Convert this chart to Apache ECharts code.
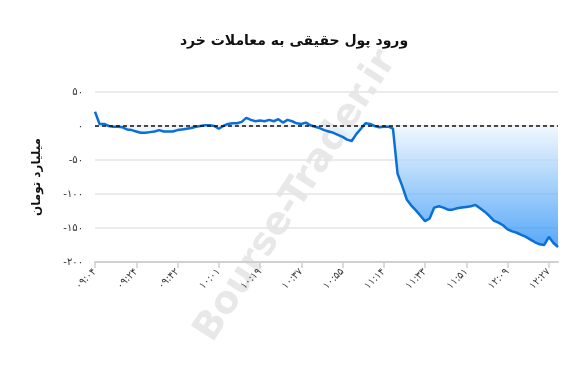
<!DOCTYPE html>
<html>
<head>
<meta charset="utf-8">
<script src="https://cdn.jsdelivr.net/npm/echarts@6/dist/echarts.min.js"></script>
<style>
  html, body { margin: 0; padding: 0; background: #fff; }
  #chart { width: 588px; height: 367px; }
</style>
</head>
<body>
<div id="chart"></div>
<script>
// ---- data (billion toman, per sample time) ----
var times = [
  "09:04","09:06","09:08","09:11","09:13","09:15","09:17","09:19","09:22","09:24",
  "09:26","09:28","09:30","09:32","09:34","09:36","09:38","09:40","09:42",
  "09:44","09:46","09:48","09:50","09:52","09:54","09:56","09:59","10:01",
  "10:03","10:05","10:07","10:09","10:11","10:13","10:15","10:17","10:19",
  "10:21","10:23","10:25","10:27","10:29","10:31","10:33","10:35","10:37",
  "10:39","10:41","10:43","10:45","10:47","10:49","10:51","10:53","10:55",
  "10:57","10:59","11:01","11:03","11:05","11:07","11:09","11:12","11:14",
  "11:16","11:18","11:20","11:22","11:24","11:26","11:28","11:31","11:33",
  "11:35","11:37","11:39","11:41","11:43","11:45","11:47","11:49","11:51",
  "11:53","11:55","11:57","11:59","12:01","12:03","12:05","12:07","12:09",
  "12:11","12:13","12:15","12:17","12:19","12:21","12:23","12:25","12:27",
  "12:29","12:31"
];

var netFlow = [
  21, 3, 3, 0, -1, -1, -2, -5, -6, -8,
  -10, -10, -9, -8, -6, -8, -8, -8, -6,
  -5, -4, -3, -1, 0, 1, 1, 0, -4,
  0, 3, 4, 4, 6, 12, 9, 7, 8,
  7, 9, 7, 10, 5, 9, 7, 4, 3,
  5, 1, -1, -3, -6, -8, -10, -13, -16,
  -20, -22, -12, -4, 4, 3, 0, -2, -1,
  -1, -4, -70, -88, -108, -117, -124, -132, -140,
  -136, -120, -118, -120, -123, -123, -121, -120, -119,
  -118, -116, -121, -126, -132, -139, -142, -146, -152,
  -155, -157, -160, -163, -167, -171, -174, -175, -163,
  -172, -178
];

var yTicks = { min: -200, max: 50, step: 50 };

// ---- helpers ----
var FA_DIGITS = "۰۱۲۳۴۵۶۷۸۹";
function toFa(s) {
  return String(s).replace(/[0-9]/g, function(d) { return FA_DIGITS[+d]; });
}

var chart = echarts.init(document.getElementById("chart"), null, { renderer: "canvas" });

chart.setOption({
  animation: false,
  backgroundColor: "#ffffff",
  title: {
    text: "ورود پول حقیقی به معاملات خرد",
    left: "center",
    top: 29,
    textStyle: { fontFamily: "DejaVu Sans", fontSize: 14, fontWeight: "bold", color: "#111" }
  },
  // watermark
  graphic: [{
    type: "text",
    x: 204, y: 338,
    rotation: 57 * Math.PI / 180,
    z: -1,
    silent: true,
    style: {
      text: "Bourse-Trader.ir",
      x: 0, y: 0,
      verticalAlign: "middle",
      fontFamily: "DejaVu Sans",
      fontSize: 38,
      fontWeight: "bold",
      fill: "rgba(140,140,140,0.2)"
    }
  }],
  grid: { left: 95, right: 30, top: 92, bottom: 105 },
  xAxis: {
    type: "category",
    data: times,
    boundaryGap: false,
    axisLine: { onZero: false, lineStyle: { color: "#d0d0d0", width: 2 } },
    axisTick: { interval: 8, length: 6, lineStyle: { color: "#d0d0d0", width: 1.5 } },
    axisLabel: {
      interval: 8,
      rotate: 45,
      margin: 8,
      fontFamily: "DejaVu Sans",
      fontSize: 10,
      color: "#333",
      formatter: function(v) { return toFa(v); }
    },
    splitLine: { show: false }
  },
  yAxis: {
    type: "value",
    min: yTicks.min,
    max: yTicks.max,
    interval: yTicks.step,
    name: "میلیارد تومان",
    nameLocation: "middle",
    nameRotate: 90,
    nameGap: 52,
    nameTextStyle: { fontFamily: "DejaVu Sans", fontSize: 12, fontWeight: "bold", color: "#111" },
    axisLine: { show: false },
    axisTick: { show: false },
    axisLabel: {
      margin: 12,
      fontFamily: "DejaVu Sans",
      fontSize: 10,
      color: "#333",
      formatter: function(v) { return toFa(v); }
    },
    splitLine: { lineStyle: { color: "#e4e4e4", width: 1.5 } }
  },
  series: [{
    type: "line",
    data: netFlow,
    showSymbol: false,
    symbol: "none",
    lineStyle: { color: "#0a6fd6", width: 2.5 },
    areaStyle: {
      color: new echarts.graphic.LinearGradient(0, 122, 0, 250, [
        { offset: 0, color: "rgba(255,255,255,0)" },
        { offset: 0.04, color: "#e9f4fe" },
        { offset: 1, color: "#0a80f5" }
      ], true)
    },
    markLine: {
      silent: true,
      symbol: ["none", "none"],
      label: { show: false },
      lineStyle: { color: "#111", type: [4, 3], width: 1.5 },
      data: [{ yAxis: 0 }]
    },
    z: 3
  }]
});
</script>
</body>
</html>
